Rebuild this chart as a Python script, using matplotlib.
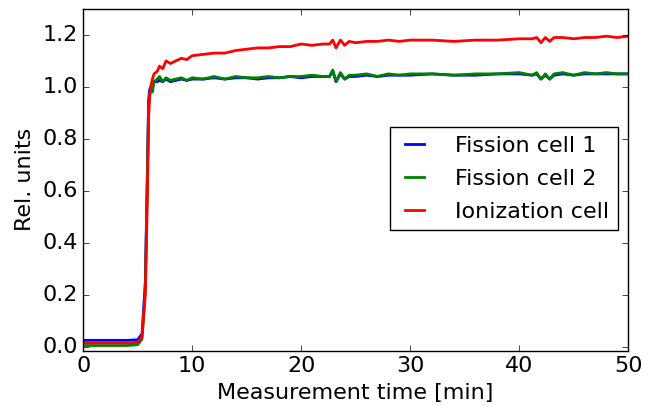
import matplotlib
matplotlib.use('Agg')
import matplotlib.pyplot as plt

plt.style.use('classic')

# time axis (min) and relative signals
time = [0, 2, 4, 5.0, 5.4, 5.7, 5.9, 6.0, 6.1, 6.2, 6.35, 6.5, 6.8, 7.0, 7.3, 7.6,
        8.0, 8.5, 9.0, 9.5, 10, 11, 12, 13, 14, 15, 16, 17, 18, 19, 20, 21, 22,
        22.6, 22.9, 23.2, 23.6, 24.0, 24.4, 25, 26, 27, 28, 29, 30, 32, 34, 36,
        38, 40, 41.2, 41.6, 42.0, 42.4, 42.8, 43.2, 44, 45, 46, 47, 48, 49, 50]

fission1 = [0.025, 0.025, 0.025, 0.027, 0.05, 0.25, 0.70, 0.95, 0.99, 1.00, 1.01, 1.02,
            1.02, 1.025, 1.02, 1.03, 1.02, 1.025, 1.03, 1.025, 1.03, 1.03, 1.035, 1.03,
            1.035, 1.035, 1.03, 1.035, 1.035, 1.04, 1.035, 1.04, 1.04, 1.04, 1.06, 1.02,
            1.05, 1.03, 1.04, 1.04, 1.045, 1.04, 1.045, 1.045, 1.045, 1.05, 1.045, 1.045,
            1.05, 1.05, 1.045, 1.05, 1.03, 1.045, 1.03, 1.045, 1.05, 1.045, 1.05, 1.05,
            1.05, 1.05, 1.05]

fission2 = [0.005, 0.005, 0.005, 0.008, 0.03, 0.22, 0.68, 0.93, 0.97, 0.99, 0.98, 1.02,
            1.03, 1.04, 1.02, 1.035, 1.025, 1.03, 1.035, 1.025, 1.035, 1.03, 1.04, 1.03,
            1.04, 1.035, 1.035, 1.04, 1.035, 1.04, 1.04, 1.045, 1.04, 1.04, 1.065, 1.02,
            1.055, 1.03, 1.045, 1.045, 1.05, 1.04, 1.05, 1.045, 1.05, 1.05, 1.045, 1.05,
            1.05, 1.055, 1.045, 1.055, 1.03, 1.05, 1.03, 1.05, 1.055, 1.045, 1.055, 1.05,
            1.055, 1.05, 1.05]

ionization = [0.015, 0.015, 0.015, 0.017, 0.04, 0.2, 0.6, 0.88, 0.96, 1.00, 1.03, 1.05,
              1.06, 1.08, 1.07, 1.10, 1.09, 1.10, 1.11, 1.105, 1.12, 1.125, 1.13, 1.13,
              1.14, 1.145, 1.15, 1.15, 1.155, 1.155, 1.165, 1.16, 1.165, 1.165, 1.18, 1.15,
              1.18, 1.16, 1.175, 1.17, 1.175, 1.175, 1.18, 1.175, 1.18, 1.18, 1.175, 1.18,
              1.18, 1.185, 1.185, 1.19, 1.17, 1.19, 1.175, 1.19, 1.19, 1.185, 1.19, 1.19,
              1.195, 1.19, 1.195]

fig = plt.figure(figsize=(6.55, 4.05), dpi=100, facecolor='white')
ax = fig.add_axes([0.127, 0.134, 0.832, 0.844])

ax.plot(time, fission1, color='b', lw=2, label='Fission cell 1')
ax.plot(time, fission2, color='g', lw=2, label='Fission cell 2')
ax.plot(time, ionization, color='r', lw=2, label='Ionization cell')

ax.set_xlim(0, 50)
ax.set_ylim(-0.015, 1.3)
ax.set_xticks([0, 10, 20, 30, 40, 50])
ax.set_yticks([0.0, 0.2, 0.4, 0.6, 0.8, 1.0, 1.2])
ax.tick_params(labelsize=16)
ax.set_xlabel('Measurement time [min]', fontsize=16)
ax.set_ylabel('Rel. units', fontsize=16)

ax.legend(loc='upper right', bbox_to_anchor=(0.982, 0.655), borderaxespad=0,
          fontsize=16, handlelength=1.45, handletextpad=1.1, labelspacing=0.58,
          frameon=True, fancybox=False)

fig.savefig('out.png', dpi=100, facecolor='white')
